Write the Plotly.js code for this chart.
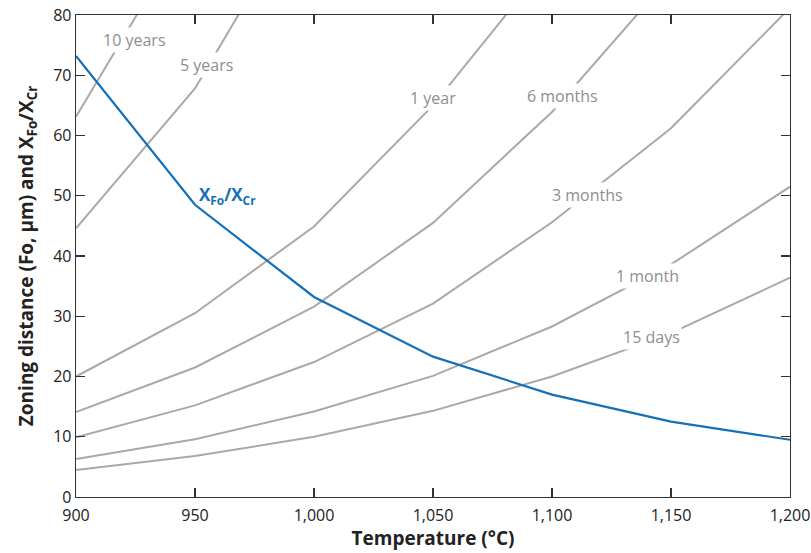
<!DOCTYPE html>
<html>
<head>
<meta charset="utf-8">
<script src="https://cdn.plot.ly/plotly-3.0.1.min.js"></script>
<style>html,body{margin:0;padding:0;background:#fff}#chart{width:811px;height:553px}</style>
</head>
<body>
<div id="chart"></div>
<script>
const temperature = [900, 950, 1000, 1050, 1100, 1150, 1200];
const days15   = [4.5, 6.8, 10.0, 14.3, 20.0, 27.2, 36.4];
const month1   = [6.3, 9.6, 14.2, 20.1, 28.3, 38.6, 51.5];
const months3  = [9.9, 15.2, 22.4, 32.1, 45.6, 61.2, 81.2];
const months6  = [14.1, 21.5, 31.6, 45.5, 63.9, 86.5];
const year1    = [20.0, 30.5, 44.9, 65.0, 89.5];
const years5   = [44.6, 67.8, 101.3];
const years10  = [63.1, 96.2];
const xFoXCr   = [73.2, 48.5, 33.2, 23.3, 17.0, 12.5, 9.5];

const curveNames = ['15 days', '1 month', '3 months', '6 months', '1 year', '5 years', '10 years'];
const curveValues = [days15, month1, months3, months6, year1, years5, years10];
const labelX = [1142, 1140, 1115, 1104.5, 1050, 955, 924.4];
const labelY = [26.6, 36.7, 50.1, 66.6, 66.2, 71.7, 75.9];

const xTicks = [900, 950, 1000, 1050, 1100, 1150, 1200];
const xTickText = ['900', '950', '1,000', '1,050', '1,100', '1,150', '1,200'];
const yTicks = [0, 10, 20, 30, 40, 50, 60, 70, 80];

const grayLine = '#a9a9a9';
const grayText = '#8e8e8e';
const blue = '#1470b8';
const font = 'Open Sans, Noto Sans, sans-serif';

const traces = curveValues.map((vals, i) => ({
  x: temperature.slice(0, vals.length),
  y: vals,
  mode: 'lines',
  name: curveNames[i],
  line: {color: grayLine, width: 2},
  hoverinfo: 'skip'
}));
traces.push({
  x: temperature, y: xFoXCr, mode: 'lines', name: 'XFo/XCr',
  line: {color: blue, width: 2.2}, hoverinfo: 'skip'
});

const annotations = curveNames.map((n, i) => ({
  x: labelX[i], y: labelY[i], xref: 'x', yref: 'y', text: n,
  showarrow: false, bgcolor: '#ffffff', borderpad: 1,
  font: {family: font, size: 16, color: grayText}
}));
annotations.push({
  x: 950.8, y: 50.0, xref: 'x', yref: 'y', xanchor: 'left',
  text: '<b>X<sub>Fo</sub>/X<sub>Cr</sub></b>', showarrow: false,
  font: {family: font, size: 17, color: blue}
});

const axisCommon = {
  showgrid: false, zeroline: false, showline: true, linecolor: '#333333', linewidth: 1.3,
  mirror: 'ticks', ticks: 'inside', ticklen: 9, tickwidth: 1.3, tickcolor: '#333333',
  tickfont: {family: font, size: 16, color: '#222222'}
};

const layout = {
  width: 811, height: 553,
  margin: {l: 76, r: 21, t: 15, b: 56},
  paper_bgcolor: '#ffffff', plot_bgcolor: '#ffffff',
  showlegend: false,
  xaxis: Object.assign({}, axisCommon, {
    range: [900, 1200], tickvals: xTicks, ticktext: xTickText, ticklabelstandoff: 3,
    title: {text: '<b>Temperature (°C)</b>', font: {family: font, size: 19, color: '#222222'}, standoff: 4}
  }),
  yaxis: Object.assign({}, axisCommon, {
    range: [0, 80], tickvals: yTicks,
    title: {text: '<b>Zoning distance (Fo, μm) and X<sub>Fo</sub>/X<sub>Cr</sub></b>', font: {family: font, size: 19, color: '#222222'}, standoff: 14}
  }),
  annotations: annotations
};

Plotly.newPlot('chart', traces, layout, {displayModeBar: false, staticPlot: true});
</script>
</body>
</html>
